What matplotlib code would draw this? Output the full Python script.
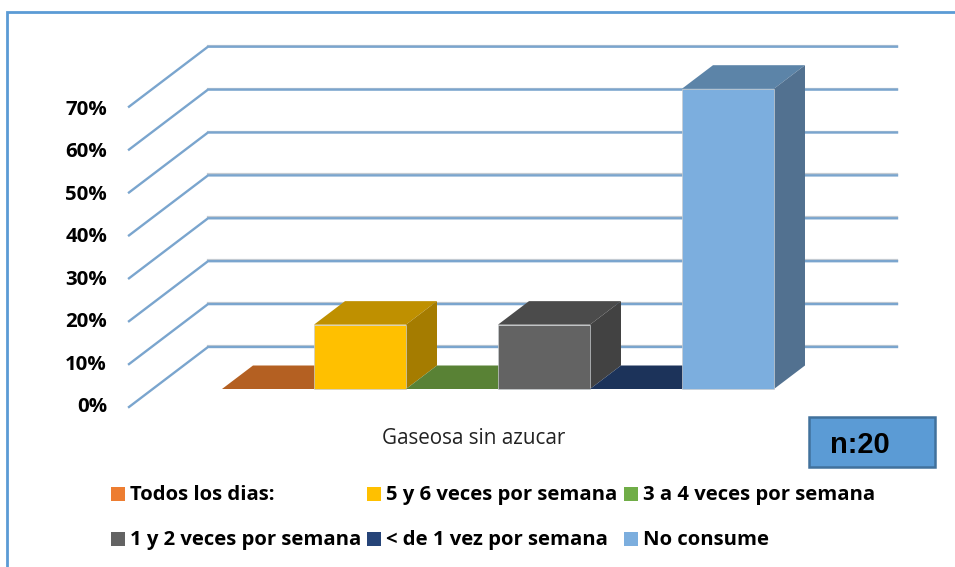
import matplotlib
matplotlib.use('Agg')
import matplotlib.pyplot as plt
from matplotlib.patches import Polygon, Rectangle

categorias = ['Todos los dias:', '5 y 6 veces por semana', '3 a 4 veces por semana',
              '1 y 2 veces por semana', '< de 1 vez por semana', 'No consume']
valores = [0, 15, 0, 15, 0, 70]
ticks = [0, 10, 20, 30, 40, 50, 60, 70]
etiqueta_x = 'Gaseosa sin azucar'
nota = 'n:20'

color_frente = ['#ED7D31', '#FFC000', '#70AD47', '#636363', '#264478', '#7CAEDE']
color_arriba = ['#B46022', '#BF9000', '#598235', '#4B4B4B', '#1C335A', '#5C84A8']
color_lado = ['#8E4B1C', '#A57C00', '#476A2B', '#424242', '#16294A', '#527190']

PX_POR_PCT = 4.29  # pixeles por cada 1%
FONDO = 'Open Sans'


def y_pared(v):
    return 407 - v * PX_POR_PCT


def grafico(ax):
    # paredes con grilla
    for t in ticks:
        xs = [129, 208, 897]
        ys = [y_pared(t), y_pared(t) - 60, y_pared(t) - 60]
        ax.plot(xs[1:], [ys[1] - 1, ys[2] - 1], color='#C4CBD2', lw=1.6, zorder=1)
        ax.plot(xs, ys, color='#7AA5CE', lw=1.7, zorder=2, solid_joinstyle='miter')
        ax.text(107, 407 - t * 4.243, f'{t}%', ha='right', va='center', family=FONDO,
                fontweight='bold', fontsize=14.7, color='black')

    # barras, de izquierda a derecha
    ancho = 92
    dx, dy = 31, -23.5
    base = 389
    for i, v in enumerate(valores):
        x0 = 222 + i * ancho
        x1 = x0 + ancho
        tope = base - v * PX_POR_PCT
        ax.add_patch(Polygon([(x0, tope), (x1, tope), (x1 + dx, tope + dy), (x0 + dx, tope + dy)],
                             fc=color_arriba[i], ec='none', zorder=3 + i))
        if v > 0:
            ax.add_patch(Polygon([(x1, base), (x1 + dx, base + dy), (x1 + dx, tope + dy), (x1, tope)],
                                 fc=color_lado[i], ec='none', zorder=3 + i))
            ax.add_patch(Rectangle((x0, tope), ancho, v * PX_POR_PCT, fc=color_frente[i],
                                   ec='#C9CDD0', lw=0.5, zorder=3 + i))

    ax.text(473.5, 438, etiqueta_x, ha='center', va='center', family=FONDO, fontsize=14.9, color='#222222')


def leyenda(ax):
    xs = [111, 367, 624, 111, 367, 624]
    ys = [494, 494, 494, 539, 539, 539]
    for i, nombre in enumerate(categorias):
        ax.add_patch(Rectangle((xs[i], ys[i] - 7), 14, 14, fc=color_frente[i], ec='none'))
        ax.text(xs[i] + 19, ys[i] + 1, nombre, ha='left', va='center', family=FONDO,
                fontweight='bold', fontsize=14.55, color='black')


fig = plt.figure(figsize=(9.55, 5.67), dpi=100)
ax = fig.add_axes([0, 0, 1, 1])
ax.set_xlim(0, 955)
ax.set_ylim(567, 0)
ax.axis('off')

# marco
ax.plot([7, 7, 955], [567, 12, 12], color='#5B9BD5', lw=2, solid_joinstyle='miter')

grafico(ax)
leyenda(ax)

# caja n
ax.add_patch(Rectangle((809, 417), 126, 50, fc='#5B9BD5', ec='#41719C', lw=1.8, zorder=20))
ax.text(830, 445, nota, ha='left', va='center', family='Liberation Sans', fontweight='bold',
        fontsize=21, color='black', zorder=21)

fig.savefig('out.png', dpi=100)
